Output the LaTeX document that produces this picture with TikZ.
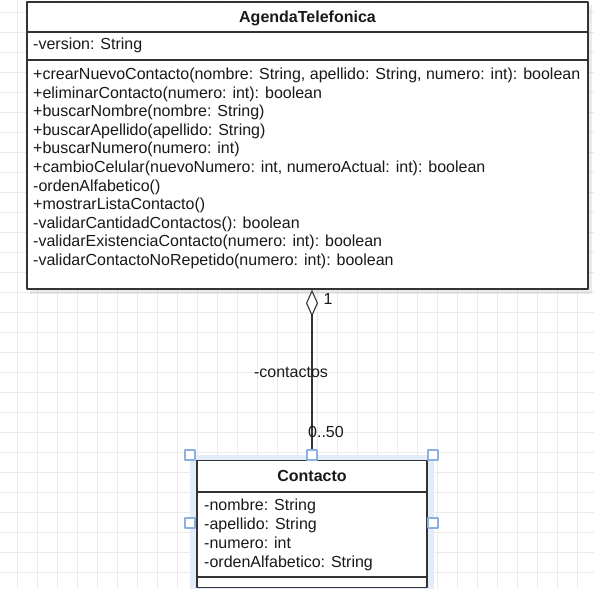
\documentclass[tikz,border=0pt]{standalone}
\usepackage{fontspec}
\setmainfont{Liberation Sans}
\usetikzlibrary{arrows.meta}
\definecolor{gridgray}{RGB}{235,235,235}
\definecolor{boxline}{RGB}{51,51,51}
\definecolor{selblue}{RGB}{226,236,250}
\definecolor{handleblue}{RGB}{140,176,228}
\newcommand{\umlfont}{\fontsize{16bp}{18bp}\selectfont}

\begin{document}
\begin{tikzpicture}[x=1bp,y=-1bp,line join=round,
  gridline/.style={gridgray,line width=0.8bp},
  classbox/.style={draw=boxline,fill=white,line width=1.3bp,inner sep=0pt},
  classline/.style={boxline,line width=1.1bp},
  umltext/.style={font=\umlfont,text=black!90,inner sep=0pt,text height=11.5bp,text depth=0.5bp},
  umltitle/.style={umltext,font=\umlfont\bfseries},
  handle/.style={draw=handleblue,fill=white,line width=1.6bp,minimum size=10bp,inner sep=0pt}]
 \useasboundingbox (0,0) rectangle (594,608);
 % background grid
 \foreach \x in {17,37,...,577} \draw[gridline] (\x,0) -- (\x,588.5);
 \foreach \y in {12,32,...,588} \draw[gridline] (0,\y) -- (594,\y);
 % AgendaTelefonica
 \fill[black,opacity=0.08] (30,5) rectangle (592,294);
 \node[classbox,minimum width=561bp,minimum height=287bp] (agenda) at (307.5,145.5) {};
 \draw[classline] (agenda.west |- 0,32) -- (agenda.east |- 0,32);
 \draw[classline] (agenda.west |- 0,60) -- (agenda.east |- 0,60);
 \node[umltitle] (agendaname) at (307.5,17) {AgendaTelefonica};
 \node[umltext,anchor=west] (version) at (33,44) {-version: String};
 \foreach \t [count=\i] in {
  {+crearNuevoContacto(nombre: String, apellido: String, numero: int): boolean},
  {+eliminarContacto(numero: int): boolean},
  {+buscarNombre(nombre: String)},
  {+buscarApellido(apellido: String)},
  {+buscarNumero(numero: int)},
  {+cambioCelular(nuevoNumero: int, numeroActual: int): boolean},
  {-ordenAlfabetico()},
  {+mostrarListaContacto()},
  {-validarCantidadContactos(): boolean},
  {-validarExistenciaContacto(numero: int): boolean},
  {-validarContactoNoRepetido(numero: int): boolean}}
  \node[umltext,anchor=west] (m\i) at (33,{74+18.6*(\i-1)}) {\t};
 % Contacto (selected)
 \fill[selblue] (190,455) rectangle (434,588.5);
 \node[classbox,minimum width=230bp,minimum height=127bp] (contacto) at (312,524) {};
 \draw[classline] (contacto.west |- 0,492) -- (contacto.east |- 0,492);
 \draw[classline] (contacto.west |- 0,577) -- (contacto.east |- 0,577);
 \node[umltitle] (contactoname) at (312,476) {Contacto};
 \foreach \t [count=\i] in {{-nombre: String},{-apellido: String},{-numero: int},{-ordenAlfabetico: String}}
  \node[umltext,anchor=west] (a\i) at (204,{504.5+19*(\i-1)}) {\t};
 % cut at the lower edge
 \fill[white] (0,588.5) rectangle (594,608);
 % aggregation
 \draw[boxline,line width=1.1bp,{Diamond[open,length=27bp,width=12bp]}-]
  (contacto.north |- agenda.south) -- (contacto.north);
 \node[umltext] (multone) at (328,299) {1};
 \node[umltext] (rolename) at (291,372) {-contactos};
 \node[umltext,anchor=west] (multmany) at (308,432) {0..50};
 % selection handles
 \foreach \p/\q [count=\i] in {190/455,312/455,433/455,190/523,433/523}
  \node[handle] (h\i) at (\p,\q) {};
\end{tikzpicture}
\end{document}
